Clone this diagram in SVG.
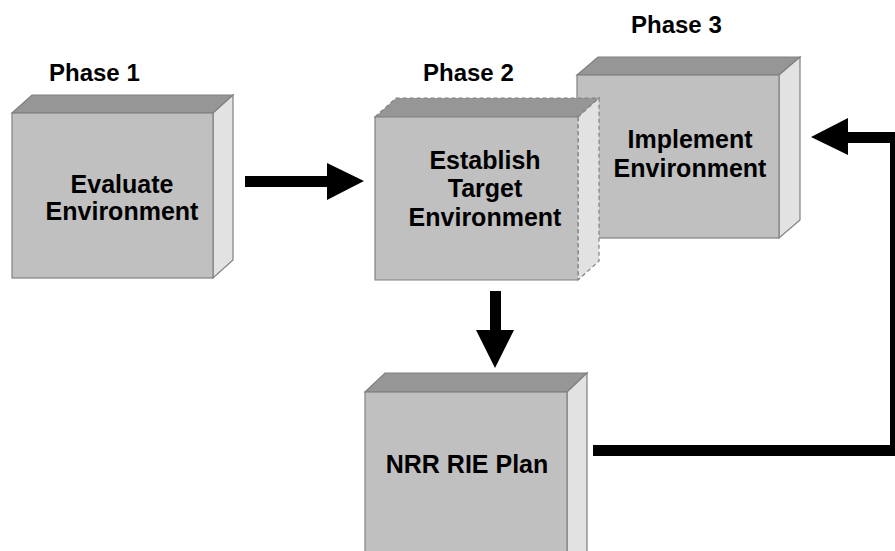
<svg xmlns="http://www.w3.org/2000/svg" width="895" height="551" viewBox="0 0 895 551">
<style>
.front{fill:#c0c0c0;stroke:#808080;stroke-width:1.2}
.top{fill:#969696;stroke:#808080;stroke-width:1.2}
.side{fill:#e2e2e2;stroke:#808080;stroke-width:1.2}
.dash{stroke-dasharray:4 3}
.lbl{font-family:"Liberation Sans",Arial,sans-serif;font-weight:bold;font-size:25px;fill:#000;text-anchor:middle}
.phase{font-family:"Liberation Sans",Arial,sans-serif;font-weight:bold;font-size:24px;fill:#000}
.conn{fill:#000;stroke:none}
</style>
<rect width="895" height="551" fill="#fff"/>
<g id="phase-labels">
<text class="phase" x="49" y="81">Phase 1</text>
<text class="phase" x="423" y="81">Phase 2</text>
<text class="phase" x="631" y="33">Phase 3</text>
</g>
<g id="node-evaluate">
<polygon class="top" points="12,113 32,95 233,95 213,113"/>
<polygon class="side" points="213,113 233,95 233,260 213,278"/>
<rect class="front" x="12" y="113" width="201" height="165"/>
<text class="lbl" x="122" y="193">Evaluate</text>
<text class="lbl" x="122" y="220">Environment</text>
</g>
<g id="node-implement">
<polygon class="top" points="577,75 598,57 800,57 779,75"/>
<polygon class="side" points="779,75 800,57 800,220 779,238"/>
<rect class="front" x="577" y="75" width="202" height="163"/>
<text class="lbl" x="690" y="148">Implement</text>
<text class="lbl" x="690" y="177">Environment</text>
</g>
<g id="node-establish">
<polygon class="top dash" points="375,117 396,98 599,98 578,117"/>
<polygon class="side dash" points="578,117 599,98 599,261 578,280"/>
<rect x="375" y="117" width="203" height="163" fill="#c0c0c0"/>
<path d="M578,117 H375 V280 H578" fill="none" stroke="#808080" stroke-width="1.2"/>
<line x1="578" y1="117" x2="578" y2="280" stroke="#808080" stroke-width="1.2" class="dash"/>
<text class="lbl" x="485" y="169">Establish</text>
<text class="lbl" x="485" y="197">Target</text>
<text class="lbl" x="485" y="226">Environment</text>
</g>
<g id="node-plan">
<polygon class="top" points="365,392 385,373 587,373 567,392"/>
<polygon class="side" points="567,392 587,373 587,560 567,560"/>
<rect class="front" x="365" y="392" width="202" height="170"/>
<text class="lbl" x="467" y="473">NRR RIE Plan</text>
</g>
<g id="connectors">
<polygon class="conn" points="245,176 327,176 327,163 364,181 327,200 327,187 245,187"/>
<polygon class="conn" points="490,291 501,291 501,330 514,330 495,368 476,330 490,330"/>
<polygon class="conn" points="593,445 890,445 890,143 848,143 848,155 811,137 848,118 848,132 901,132 901,456 593,456"/>
</g>
</svg>
